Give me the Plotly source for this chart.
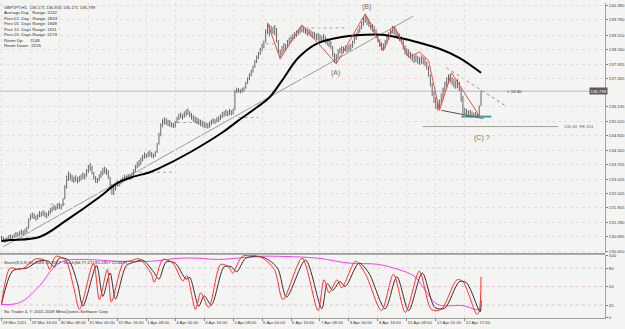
import plotly.graph_objects as go

# ---------------- data ----------------
HIGHS = [130.72,130.68,130.62,130.66,130.75,130.78,130.74,130.82,130.88,130.85,
130.92,130.98,130.94,131.02,131.10,131.45,131.62,131.70,131.66,131.58,
131.64,131.76,131.72,131.80,131.74,131.68,131.78,131.88,131.95,132.02,
131.98,132.06,132.10,132.04,132.30,132.85,133.25,133.42,133.36,133.28,
133.20,133.26,133.18,133.24,133.30,133.38,133.34,133.52,133.70,133.78,
133.66,133.40,133.22,133.15,133.30,133.45,133.58,133.62,133.55,133.48,
133.20,132.90,132.80,132.95,133.05,133.02,133.12,133.20,133.28,133.25,
133.32,133.30,133.38,133.52,133.70,133.82,133.90,134.00,134.12,134.22,
134.18,134.26,134.31,134.24,134.18,134.28,134.62,135.05,135.45,135.62,
135.70,135.66,135.60,135.58,135.50,135.45,135.55,135.72,135.85,135.90,
135.84,135.95,136.02,136.07,135.96,135.88,135.80,135.74,135.70,135.64,
135.60,135.56,135.52,135.48,135.45,135.52,135.60,135.66,135.62,135.70,
135.74,135.82,135.92,135.96,136.02,135.98,136.05,136.00,136.07,136.85,
136.95,136.92,136.88,136.94,136.98,137.20,137.38,137.55,137.70,137.88,
138.10,138.30,138.45,138.62,138.80,138.92,139.40,139.67,139.60,139.55,
139.50,139.58,139.45,138.95,138.55,138.70,138.82,138.78,138.95,139.05,
139.12,139.20,139.28,139.35,139.42,139.50,139.58,139.52,139.45,139.40,
139.42,139.35,139.30,139.28,139.22,139.25,139.18,139.12,139.20,139.10,
139.02,138.95,138.90,138.70,138.40,138.35,138.55,138.62,138.70,138.66,
138.72,138.68,138.75,138.80,138.92,139.10,139.25,139.40,139.55,139.72,
139.90,140.05,139.92,139.85,139.70,139.62,139.55,139.40,139.20,138.98,
138.85,138.80,138.95,139.12,139.28,139.40,139.54,139.50,139.38,139.30,
139.22,139.10,138.95,138.72,138.60,138.55,138.45,138.38,138.30,138.35,
138.28,138.22,138.30,138.25,138.20,138.05,137.85,137.50,137.15,136.80,
136.55,136.40,136.45,136.70,136.95,137.20,137.38,137.50,137.52,137.40,
137.32,137.25,137.30,137.20,136.95,136.60,136.10,136.05,135.98,136.02,
135.95,135.90,135.92,135.85,136.20,136.82]
LOWS = [130.48,130.45,130.42,130.47,130.55,130.58,130.56,130.62,130.66,130.68,
130.72,130.76,130.74,130.80,130.86,131.02,131.38,131.45,131.42,131.36,
131.40,131.50,131.52,131.56,131.50,131.46,131.54,131.62,131.72,131.80,
131.78,131.84,131.86,131.82,131.96,132.25,132.70,133.02,133.05,132.98,
132.94,133.00,132.92,132.98,133.04,133.10,133.08,133.20,133.36,133.45,
133.30,133.08,132.95,132.93,133.02,133.15,133.26,133.34,133.28,133.12,
132.70,132.45,132.43,132.62,132.78,132.80,132.88,132.95,133.02,133.04,
133.08,133.06,133.10,133.22,133.40,133.55,133.62,133.70,133.85,133.96,
133.98,134.02,134.06,134.00,133.98,134.04,134.20,134.55,134.90,135.28,
135.40,135.38,135.34,135.30,135.28,135.25,135.27,135.45,135.58,135.65,
135.60,135.68,135.74,135.80,135.70,135.60,135.52,135.46,135.42,135.38,
135.34,135.30,135.26,135.24,135.23,135.26,135.36,135.44,135.42,135.48,
135.50,135.58,135.66,135.72,135.76,135.74,135.80,135.78,135.82,136.00,
136.72,136.74,136.70,136.74,136.78,136.90,137.10,137.26,137.42,137.58,
137.78,137.98,138.15,138.32,138.48,138.60,138.85,139.20,139.10,139.25,
139.20,139.15,138.85,138.40,138.16,138.30,138.45,138.50,138.62,138.75,
138.85,138.92,139.00,139.08,139.15,139.22,139.28,139.25,139.20,139.12,
139.15,139.08,139.02,139.00,138.95,138.92,138.88,138.84,138.86,138.80,
138.72,138.65,138.58,138.25,137.98,137.95,138.20,138.38,138.42,138.40,
138.46,138.42,138.48,138.52,138.62,138.80,138.95,139.10,139.25,139.40,
139.55,139.68,139.58,139.50,139.38,139.30,139.20,139.04,138.85,138.65,
138.52,138.50,138.62,138.80,138.95,139.10,139.22,139.18,139.05,138.98,
138.90,138.80,138.55,138.35,138.28,138.22,138.15,138.05,137.98,138.02,
137.95,137.90,137.95,137.92,137.85,137.70,137.40,137.00,136.60,136.30,
136.05,135.99,136.00,136.20,136.45,136.75,136.95,137.10,137.15,137.05,
136.95,136.90,136.92,136.80,136.35,135.78,135.80,135.75,135.72,135.70,
135.68,135.72,135.70,135.66,135.75,136.17]

LAST_PRICE = 136.799

# moving average (bar index, value)
MA_IDX = [0, 5, 21, 36, 54, 64, 72, 82, 87, 104, 122, 131, 141, 148, 155, 164, 174, 183, 192, 201, 210, 220, 231, 242, 253, 265]
MA_VAL = [130.50, 130.54, 130.67, 131.38, 132.34, 132.93, 133.18, 133.39, 133.55, 134.22, 135.06, 135.57, 136.11, 136.53,
          137.24, 138.20, 138.79, 139.00, 139.12, 139.17, 139.17, 139.04, 138.83, 138.58, 138.20, 137.57]

# zigzag (bar index, price)
ZZ_IDX = [147, 154, 166, 185, 201, 211, 217, 225, 231, 236, 242, 248.7, 264.6]
ZZ_VAL = [139.67, 138.16, 139.58, 137.95, 140.05, 138.50, 139.54, 138.22, 138.45, 138.08, 135.99, 137.57, 135.69]

# stochastic main (red)
ST_IDX = [0, 4.7, 9, 12.3, 19, 24.4, 26.6, 30, 35.4, 39.8, 43.1, 50.8, 54.1, 58.5, 60.7, 67.3, 71.6, 76, 82.6, 84.4,
          89.2, 94.7, 100.2, 102.4, 107.2, 110.1, 114.5, 121.1, 125.5, 127.7, 133.1, 143, 150.7, 155.5, 166.1, 174.9,
          178.2, 181, 185.4, 188, 195.7, 201.2, 210, 216.6, 223.2, 230.9, 237.5, 243, 251.7, 255, 262.7, 264, 265]
ST_VAL = [21, 80, 78, 80, 95, 92, 78, 99, 93, 50, 13, 88, 29, 78, 25, 88, 92, 95, 72, 57,
          94, 88, 59, 68, 13, 40, 16, 86, 82, 72, 99, 98, 78, 29, 96, 11,
          61, 40, 61, 48, 91, 70, 11, 70, 8, 75, 13, 13, 61, 58, 5, 10, 66]
# stochastic signal (black)
SG_IDX = [0, 6, 11, 14, 21, 26, 29, 32, 37, 42, 45, 52.5, 56, 60, 63, 69, 74, 78, 84, 87,
          91, 96, 102, 104, 109, 112, 116, 123, 127, 130, 135, 145, 152.5, 157.5, 168, 177,
          180, 183, 187, 190, 197.5, 203, 212, 218.5, 225, 232.5, 239.5, 245, 253, 257, 264.5, 265]
SG_VAL = [22, 75, 79, 80, 92, 91, 82, 96, 93, 55, 18, 84, 34, 72, 30, 84, 90, 93, 74, 62,
          90, 88, 62, 65, 18, 35, 20, 82, 82, 74, 96, 97, 80, 33, 93, 14,
          55, 44, 58, 50, 88, 72, 14, 66, 11, 72, 16, 15, 58, 56, 9, 28]
# slow stochastic (magenta)
SL_IDX = [0, 10, 21, 28, 34, 43, 65, 83, 98, 109, 120, 142, 153, 175, 192, 208, 219, 228, 234, 241, 255, 262, 265]
SL_VAL = [21, 24, 51, 78, 91, 94, 91, 91, 96, 96, 94, 99, 99, 96, 88, 86, 78, 67, 45, 21, 19, 13, 12]

TICK_IDX = [0, 16, 32, 48, 64, 80, 96, 112, 128, 144, 160, 176, 192, 208, 224, 240, 256]
TICK_TEXT = ["29 Mar 2011", "29 Mar 16:00", "30 Mar 08:00", "31 Mar 00:00", "31 Mar 16:00", "1 Apr 08:00",
             "4 Apr 00:00", "4 Apr 16:00", "5 Apr 08:00", "6 Apr 00:00", "6 Apr 16:00", "7 Apr 08:00",
             "8 Apr 00:00", "8 Apr 16:00", "11 Apr 09:00", "12 Apr 01:00", "12 Apr 17:00"]
PRICE_TICKS = [140.380, 139.790, 139.150, 138.560, 137.935, 137.335, 136.135, 135.520, 134.920,
               134.320, 133.705, 133.105, 132.505, 131.905, 131.290, 130.695, 130.050]
STOCH_TICKS = [0, 20, 50, 80, 100]

INFO_LINES = ["GBPJPY,H1  136.171 136.816 136.171 136.799",
              "Average Day   Range: 2242",
              "Prev 01  Day   Range: 2843",
              "Prev 05  Days Range: 1848",
              "Prev 10  Days Range: 1911",
              "Prev 20  Days Range: 2279",
              "Room Up:      1148",
              "Room Down:  2226"]

# drawing objects (bar index, price)
TREND_UP = [(0.8, 130.25), (227.7, 139.96)]
LOW_TREND = [(243.2, 135.99), (266.3, 135.65)]
UP_DASH = [(245.9, 137.78), (278.4, 136.19)]
CYAN_LINE = [(254.2, 135.73), (270.7, 135.73)]
FE_LINE = [(232.7, 135.31), (307.6, 135.31)]
DOT_LEVELS = [(10, 21, 130.67), (27, 36, 132.05), (76, 94, 133.39), (97, 109, 135.48),
              (131, 142, 135.69), (146, 153, 138.79), (168, 190, 139.46)]

# ---------------- figure ----------------
FONT = "Liberation Sans"
fig = go.Figure()

bx, by = [], []
for i, (h, l) in enumerate(zip(HIGHS, LOWS)):
    bx += [i, i, None]
    by += [l, h, None]
fig.add_trace(go.Scatter(x=bx, y=by, mode="lines", line=dict(color="#666666", width=1),
                         hoverinfo="skip", xaxis="x", yaxis="y"))
fig.add_trace(go.Scatter(x=MA_IDX, y=MA_VAL, mode="lines", line=dict(color="black", width=2, shape="spline"),
                         xaxis="x", yaxis="y"))
fig.add_trace(go.Scatter(x=ZZ_IDX, y=ZZ_VAL, mode="lines", line=dict(color="#e8504a", width=1),
                         xaxis="x", yaxis="y"))

# stochastic panel
fig.add_trace(go.Scatter(x=SL_IDX, y=SL_VAL, mode="lines", line=dict(color="#ee44ee", width=1, shape="spline"),
                         xaxis="x2", yaxis="y2"))
fig.add_trace(go.Scatter(x=SG_IDX, y=SG_VAL, mode="lines", line=dict(color="#303030", width=1, shape="spline", smoothing=0.8),
                         xaxis="x2", yaxis="y2"))
fig.add_trace(go.Scatter(x=ST_IDX, y=ST_VAL, mode="lines", line=dict(color="#ff3030", width=1, shape="spline", smoothing=0.8),
                         xaxis="x2", yaxis="y2"))

shapes = []
def seg(p0, p1, color, width=1, dash="solid", xr="x", yr="y"):
    shapes.append(dict(type="line", xref=xr, yref=yr, x0=p0[0], y0=p0[1], x1=p1[0], y1=p1[1],
                       line=dict(color=color, width=width, dash=dash), layer="below"))

# current price line
seg((-1, LAST_PRICE), (340, LAST_PRICE), "#b8b8c8", 1)
seg(TREND_UP[0], TREND_UP[1], "#a09898", 1)
seg(LOW_TREND[0], LOW_TREND[1], "#505050", 1)
seg(UP_DASH[0], UP_DASH[1], "#909090", 1, "dot")
seg(CYAN_LINE[0], CYAN_LINE[1], "#3aa0a8", 2)
seg(FE_LINE[0], FE_LINE[1], "#a0a0a0", 1)
for a, b, v in DOT_LEVELS:
    seg((a, v), (b, v), "#a8a8a8", 1, "dot")
for lv in (20, 50, 80):
    seg((-1, lv), (340, lv), "#e2c4d6", 1, "dot", "x2", "y2")

# panel separator
shapes.append(dict(type="rect", xref="paper", yref="paper", x0=0, x1=1, y0=0.2, y1=0.206,
                   fillcolor="#9a9a9a", line=dict(width=0)))
fig.update_layout(shapes=shapes)

ann = []
for k, t in enumerate(INFO_LINES):
    ann.append(dict(text=t, xref="paper", yref="paper", x=0.004, y=0.997 - k * 0.0172, xanchor="left",
                    yanchor="top", showarrow=False, font=dict(size=4.3, color="#303030", family=FONT)))
def note(i, p, t, size=7, color="#707070", xa="center", ya="middle", xr="x", yr="y"):
    ann.append(dict(text=t, x=i, y=p, xref=xr, yref=yr, showarrow=False, xanchor=xa, yanchor=ya,
                    font=dict(size=size, color=color, family=FONT)))
note(184.8, 137.55, "(A)")
note(201.6, 140.33, "(B)")
note(265.5, 134.84, "(C) ?")
note(278.4, 136.78, "< 13:40", 4.3, "#303030", "left")
note(310, 135.31, "135.30  FE 201", 4.3, "#606060", "left")
ann.append(dict(text="136.799", xref="paper", yref="y", x=0.973, y=LAST_PRICE, xanchor="left", showarrow=False,
                font=dict(size=4.3, color="white", family=FONT), bgcolor="#5a5a5a", borderpad=0.5))
ann.append(dict(text="Stoch(8,3,3) 66.3088 52.9557  Stoch(84,77,27) 85.2857 22.6471", xref="paper", yref="paper",
                x=0.004, y=0.189, xanchor="left", yanchor="top", showarrow=False,
                font=dict(size=4.3, color="#303030", family=FONT)))
ann.append(dict(text="Sic Trader 4, \u00a9 2001-2009 MetaQuotes Software Corp.", xref="paper", yref="paper",
                x=0.004, y=0.005, xanchor="left", yanchor="bottom", showarrow=False,
                font=dict(size=4.3, color="#303030", family=FONT)))
fig.update_layout(annotations=ann)

XR = [-0.83, 333.5]
grid = dict(showgrid=True, gridcolor="#e6dede", griddash="dot", gridwidth=1)
fig.update_layout(
    width=625, height=329, margin=dict(l=0, r=18, t=1, b=11),
    paper_bgcolor="#f4f4f2", plot_bgcolor="#f4f4f2", showlegend=False,
    font=dict(family=FONT, size=4.3, color="#404040"),
    xaxis=dict(domain=[0, 1], range=XR, anchor="y", showticklabels=False, tickvals=TICK_IDX, zeroline=False, **grid),
    yaxis=dict(domain=[0.206, 0.997], range=[130.0, 140.506], side="right", tickvals=PRICE_TICKS,
               ticktext=[f"{v:.3f}" for v in PRICE_TICKS], ticks="outside", ticklen=2, tickcolor="#808080",
               showline=True, linecolor="#a0a0a0", zeroline=False, **grid),
    xaxis2=dict(domain=[0, 1], range=XR, anchor="y2", tickvals=TICK_IDX, ticktext=TICK_TEXT, ticks="outside",
                ticklen=2, tickcolor="#808080", tickangle=0, ticklabelposition="outside right",
                showline=True, linecolor="#a0a0a0", zeroline=False, **grid),
    yaxis2=dict(domain=[0, 0.2], range=[-1, 101.5], side="right", tickvals=STOCH_TICKS, ticks="outside", ticklen=2,
                tickcolor="#808080", showline=True, linecolor="#a0a0a0", zeroline=False, showgrid=False),
)
fig.write_html("out.html")
